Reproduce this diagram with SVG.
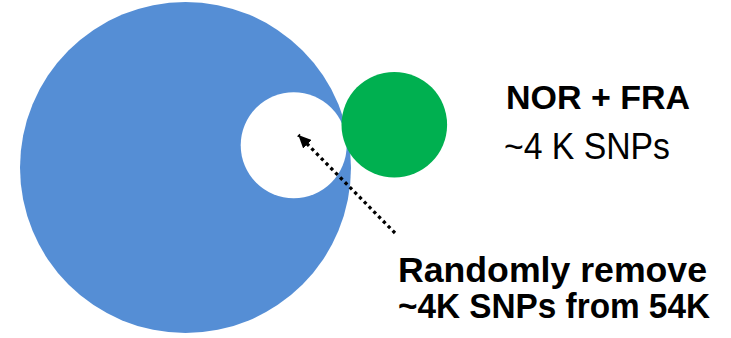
<svg xmlns="http://www.w3.org/2000/svg" width="731" height="338" viewBox="0 0 731 338">
<style>
.t{font-family:"Liberation Sans",Arial,sans-serif;fill:#000}
.b{font-weight:bold}
</style>
<defs>
<marker id="ah" viewBox="0 0 13 12" refX="13" refY="6" markerWidth="13" markerHeight="12" markerUnits="userSpaceOnUse" orient="auto">
<path d="M0,0 L13,6 L0,12 z" fill="#000"/>
</marker>
</defs>
<rect width="731" height="338" fill="#fff"/>
<g id="all54k"><circle cx="185.5" cy="167.5" r="165.5" fill="#558ED5"/></g>
<g id="removed"><circle cx="293.7" cy="145.2" r="53" fill="#fff"/></g>
<g id="norfra"><circle cx="394.3" cy="124.7" r="52.8" fill="#00B050"/></g>
<g id="connectors">
<line x1="395" y1="233" x2="298.3" y2="135" stroke="#000" stroke-width="3.3" stroke-dasharray="3.3 3.5" marker-end="url(#ah)"/>
</g>
<g id="label-norfra">
<text class="t b" x="506" y="109" font-size="34" textLength="184" lengthAdjust="spacingAndGlyphs">NOR + FRA</text>
<text class="t" x="504" y="159" font-size="36" textLength="166" lengthAdjust="spacingAndGlyphs">~4 K SNPs</text>
</g>
<g id="label-remove">
<text class="t b" x="398" y="282" font-size="35" textLength="309" lengthAdjust="spacingAndGlyphs">Randomly remove</text>
<text class="t b" x="398" y="318" font-size="35" textLength="312" lengthAdjust="spacingAndGlyphs">~4K SNPs from 54K</text>
</g>
</svg>
